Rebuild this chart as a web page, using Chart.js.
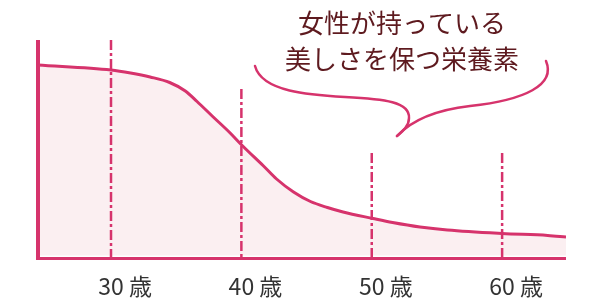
<!DOCTYPE html>
<html>
<head>
<meta charset="utf-8">
<script src="https://cdn.jsdelivr.net/npm/chart.js@4.4.0/dist/chart.umd.min.js"></script>
<style>
  body { margin: 0; background: #fff; }
</style>
</head>
<body>
<canvas id="chart" width="600" height="300"></canvas>
<script>
// Data (age on x, relative level on y)
const ages   = [24.4, 30, 31.5, 33, 34.5, 35.7, 36.6, 37.8, 39.1, 40.1, 41.7, 42.7, 44, 45.3, 46.6, 47.8, 50.1, 51.6, 53.7, 55.8, 60, 63.5, 64.9];
const levels = [193.5, 188.5, 185.5, 181.5, 176, 167.5, 157, 142, 126, 112.5, 92.5, 79.5, 66.5, 57, 51, 46.5, 40, 36, 31.5, 28.5, 25, 23, 21.5];

const markerAges = [30, 40, 50, 60];
const markerTops = [218.5, 169.5, 105.5, 105.5];
const tickLabels = ['30 歳', '40 歳', '50 歳', '60 歳'];

const calloutLines = ['女性が持っている', '美しさを保つ栄養素'];

const PINK = '#d6336c';
const FILL = '#fbeff1';

// curve dataset + one dash-dot line per age marker (markers drawn on top)
const datasets = [{
    data: ages.map((a, i) => ({ x: a, y: levels[i] })),
    borderColor: PINK,
    borderWidth: 3,
    backgroundColor: FILL,
    fill: { value: 3 },
    pointRadius: 0,
    cubicInterpolationMode: 'monotone',
    order: 2
}];
markerAges.forEach((a, i) => {
    datasets.push({
        data: [{ x: a, y: markerTops[i] }, { x: a, y: 0 }],
        borderColor: PINK,
        borderWidth: 2.5,
        borderDash: [10, 3, 3, 3],
        pointRadius: 0,
        fill: false,
        order: 1
    });
});

// axes, age labels and the speech bubble
const decorations = {
    id: 'decorations',
    afterDatasetsDraw(chart) {
        const { ctx, chartArea, scales } = chart;
        ctx.save();

        // axis lines
        ctx.strokeStyle = PINK;
        ctx.lineWidth = 4;
        ctx.beginPath();
        ctx.moveTo(chartArea.left, chartArea.top);
        ctx.lineTo(chartArea.left, chartArea.bottom + 1.5);
        ctx.stroke();
        ctx.lineWidth = 3;
        ctx.beginPath();
        ctx.moveTo(chartArea.left - 2, chartArea.bottom);
        ctx.lineTo(chartArea.right, chartArea.bottom);
        ctx.stroke();

        // age labels, number centred on the marker
        ctx.font = '23px "Noto Sans CJK JP", "Noto Sans", sans-serif';
        ctx.fillStyle = '#333';
        ctx.textAlign = 'left';
        ctx.textBaseline = 'alphabetic';
        tickLabels.forEach((lab, i) => {
            const px = scales.x.getPixelForValue(markerAges[i]);
            const numW = ctx.measureText(lab.split(' ')[0]).width;
            ctx.fillText(lab, px - numW / 2, 295);
        });

        // speech bubble
        ctx.strokeStyle = PINK;
        ctx.lineWidth = 2.5;
        ctx.lineCap = 'round';
        ctx.beginPath();
        ctx.moveTo(255, 66);
        ctx.bezierCurveTo(262, 92, 310, 95, 345, 97);
        ctx.bezierCurveTo(385, 99, 410, 102, 409, 118);
        ctx.bezierCurveTo(409, 126, 403, 131, 397, 136);
        ctx.stroke();
        ctx.beginPath();
        ctx.moveTo(397, 136);
        ctx.bezierCurveTo(412, 120, 435, 110, 470, 106);
        ctx.bezierCurveTo(525, 100, 556, 85, 546, 61);
        ctx.stroke();

        ctx.font = '26px "Noto Sans CJK JP", sans-serif';
        ctx.fillStyle = '#5e1a1f';
        ctx.textAlign = 'center';
        ctx.textBaseline = 'middle';
        ctx.fillText(calloutLines[0], 402, 23);
        ctx.fillText(calloutLines[1], 402, 59.5);

        ctx.restore();
    }
};

new Chart(document.getElementById('chart'), {
    type: 'line',
    data: { datasets },
    options: {
        responsive: false,
        animation: false,
        devicePixelRatio: 1,
        layout: { padding: { left: 38, right: 34, top: 40, bottom: 41.5 } },
        scales: {
            x: { type: 'linear', min: 24.4, max: 64.9, display: false },
            y: { min: 0, max: 218.5, display: false }
        },
        plugins: {
            legend: { display: false },
            tooltip: { enabled: false }
        }
    },
    plugins: [decorations]
});
</script>
</body>
</html>
